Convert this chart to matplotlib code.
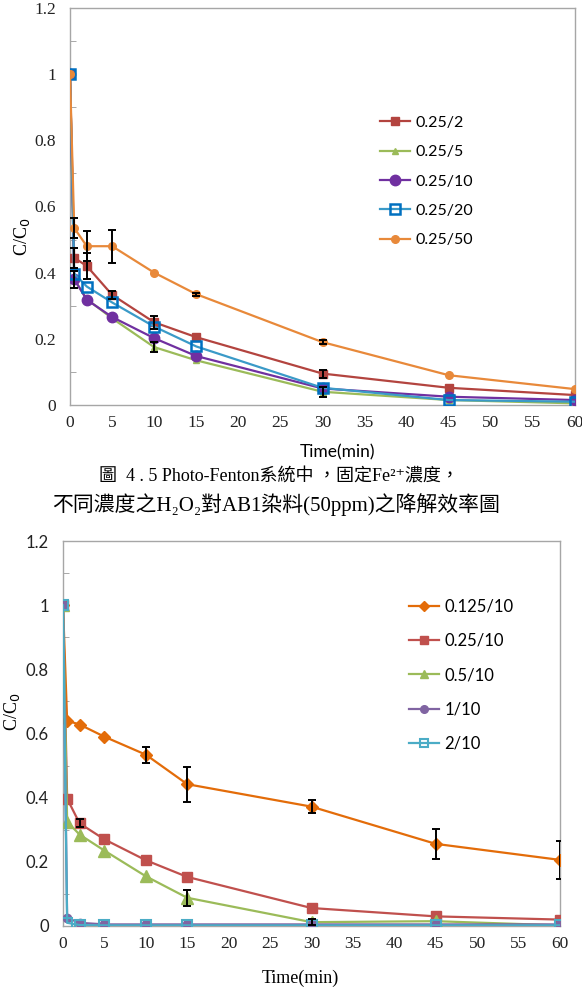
import numpy as np
import matplotlib
matplotlib.use("Agg")
from matplotlib import pyplot as plt

# sampling times (min)
time = [0, 0.5, 2, 5, 10, 15, 30, 45, 60]

# --- top chart: fixed Fe2+, varying H2O2 ---
top_labels = ["0.25/2", "0.25/5", "0.25/10", "0.25/20", "0.25/50"]
top_r2 = [1.0, 0.445, 0.42, 0.333, 0.25, 0.205, 0.095, 0.052, 0.03]
top_r5 = [1.0, 0.38, 0.32, 0.262, 0.175, 0.135, 0.04, 0.015, 0.005]
top_r10 = [1.0, 0.38, 0.318, 0.266, 0.202, 0.148, 0.05, 0.025, 0.015]
top_r20 = [1.0, 0.397, 0.358, 0.31, 0.237, 0.177, 0.052, 0.015, 0.01]
top_r50 = [1.0, 0.535, 0.48, 0.48, 0.40, 0.335, 0.19, 0.09, 0.048]
top_err2 = [0, 0.03, 0.04, 0.012, 0.02, 0, 0.012, 0, 0]
top_err5 = [0, 0, 0, 0, 0.015, 0, 0.015, 0, 0]
top_err10 = [0, 0.025, 0, 0, 0, 0, 0, 0, 0]
top_err50 = [0, 0.03, 0.045, 0.05, 0, 0.005, 0.005, 0, 0]

# --- bottom chart: fixed H2O2, varying Fe2+ ---
bot_labels = ["0.125/10", "0.25/10", "0.5/10", "1/10", "2/10"]
bot_a = [1.0, 0.64, 0.628, 0.59, 0.534, 0.442, 0.372, 0.256, 0.206]
bot_b = [1.0, 0.397, 0.32, 0.27, 0.205, 0.153, 0.056, 0.03, 0.02]
bot_c = [1.0, 0.325, 0.285, 0.235, 0.155, 0.088, 0.012, 0.015, 0.002]
bot_d = [1.0, 0.025, 0.01, 0.005, 0.005, 0.005, 0.005, 0.005, 0.005]
bot_e = [1.0, 0.01, 0.003, 0.002, 0.002, 0.002, 0.002, 0.002, 0.002]
bot_err_a = [0, 0, 0, 0, 0.025, 0.055, 0.02, 0.047, 0.06]
bot_err_b = [0, 0, 0.012, 0, 0, 0, 0, 0, 0]
bot_err_c = [0, 0, 0, 0, 0, 0.025, 0.01, 0, 0]

ytick_vals = [0, 0.2, 0.4, 0.6, 0.8, 1.0, 1.2]
ytick_text = ["0", "0.2", "0.4", "0.6", "0.8", "1", "1.2"]
xtick_vals = list(range(0, 65, 5))

SERIF = ["Liberation Serif", "DejaVu Serif"]
SANS = ["Lato", "DejaVu Sans"]
CAPTION = ["Liberation Serif", "DejaVu Serif", "Noto Sans CJK TC"]


def style_axes(ax, ysans):
    ax.set_xlim(0, 60)
    ax.set_ylim(0, 1.2)
    ax.set_xticks(xtick_vals)
    ax.set_xticklabels([str(v) for v in xtick_vals], family=SERIF, fontsize=12.5)
    ax.set_yticks(ytick_vals)
    if ysans:
        ax.set_yticklabels(ytick_text, family=SANS, fontsize=12)
    else:
        ax.set_yticklabels(ytick_text, family=SERIF, fontsize=12.5)
    ax.set_yticks(np.arange(0.1, 1.2, 0.2), minor=True)
    ax.tick_params(axis="y", which="minor", direction="in", length=4, color="#9a9a9a")
    ax.tick_params(axis="y", which="major", length=0, pad=10, colors="#222222")
    ax.tick_params(axis="x", length=0, pad=7, colors="#222222")
    for s in ax.spines.values():
        s.set_color("#a6a6a6")
        s.set_linewidth(1.0)


def draw(ax, y, err, label, color, marker, ms, mfc=None, mec=None, mew=1.0):
    ax.plot(time, y, color=color, lw=1.6, marker=marker, ms=ms,
            mfc=mfc if mfc else color, mec=mec if mec else color,
            mew=mew, label=label, zorder=3)
    if err is not None:
        t = np.array(time)
        yy = np.array(y)
        e = np.array(err)
        keep = e > 0
        ax.errorbar(t[keep], yy[keep], yerr=e[keep], fmt="none", ecolor="black",
                    elinewidth=1.4, capsize=3, capthick=1.4, zorder=4)


fig = plt.figure(figsize=(5.82, 9.98), dpi=100)

# top chart
ax1 = fig.add_axes([70 / 582, 1 - 405 / 998, 505 / 582, 397 / 998])
draw(ax1, top_r2, top_err2, top_labels[0], "#B3443F", "s", 5.5)
draw(ax1, top_r5, top_err5, top_labels[1], "#9BBB59", "^", 5)
draw(ax1, top_r10, top_err10, top_labels[2], "#7030A0", "o", 7.5)
draw(ax1, top_r20, None, top_labels[3], "#3A9AC8", "s", 7,
     mfc="none", mec="#0070C0", mew=1.8)
draw(ax1, top_r50, top_err50, top_labels[4], "#E8893A", "o", 5.5)
style_axes(ax1, ysans=False)
ax1.legend(loc="upper left", bbox_to_anchor=(0.585, 0.765), frameon=False,
           prop={"family": SANS, "size": 11.5}, labelspacing=0.95,
           handlelength=1.9, handletextpad=0.35, numpoints=1)
fig.text(22 / 582, 1 - 237 / 998, "C/C$_0$", rotation=90, ha="center", va="center",
         family=SERIF, fontsize=13)
fig.text(337 / 582, 1 - 452 / 998, "Time(min)", ha="center", va="center",
         family=SANS, fontsize=12.5)

# caption
fig.text(279 / 582, 1 - 477 / 998, "圖  4 . 5 Photo-Fenton系統中 ，固定Fe²⁺濃度，",
         ha="center", va="center", family=CAPTION, fontsize=13)
fig.text(276 / 582, 1 - 505 / 998, "不同濃度之H₂O₂對AB1染料(50ppm)之降解效率圖",
         ha="center", va="center", family=CAPTION, fontsize=15)

# bottom chart
ax2 = fig.add_axes([63 / 582, 1 - 926 / 998, 497 / 582, 385 / 998])
draw(ax2, bot_a, bot_err_a, bot_labels[0], "#E36C09", "D", 6.5)
draw(ax2, bot_b, bot_err_b, bot_labels[1], "#C0504D", "s", 7)
draw(ax2, bot_c, bot_err_c, bot_labels[2], "#9BBB59", "^", 8)
draw(ax2, bot_d, None, bot_labels[3], "#8064A2", "o", 6)
draw(ax2, bot_e, None, bot_labels[4], "#4BACC6", "s", 6.5,
     mfc="none", mec="#4BACC6", mew=1.5)
style_axes(ax2, ysans=True)
leg2 = ax2.legend(loc="upper left", bbox_to_anchor=(0.665, 0.89), frameon=False,
                  prop={"family": SANS, "size": 12}, labelspacing=1.1,
                  handlelength=1.8, handletextpad=0.35, numpoints=1)
for h in leg2.legend_handles:
    h.set_markersize(5.5)
fig.text(12 / 582, 1 - 712 / 998, "C/C$_0$", rotation=90, ha="center", va="center",
         family=SERIF, fontsize=13)
fig.text(300 / 582, 1 - 978 / 998, "Time(min)", ha="center", va="center",
         family=SERIF, fontsize=13)

fig.savefig("out.png", dpi=100)
